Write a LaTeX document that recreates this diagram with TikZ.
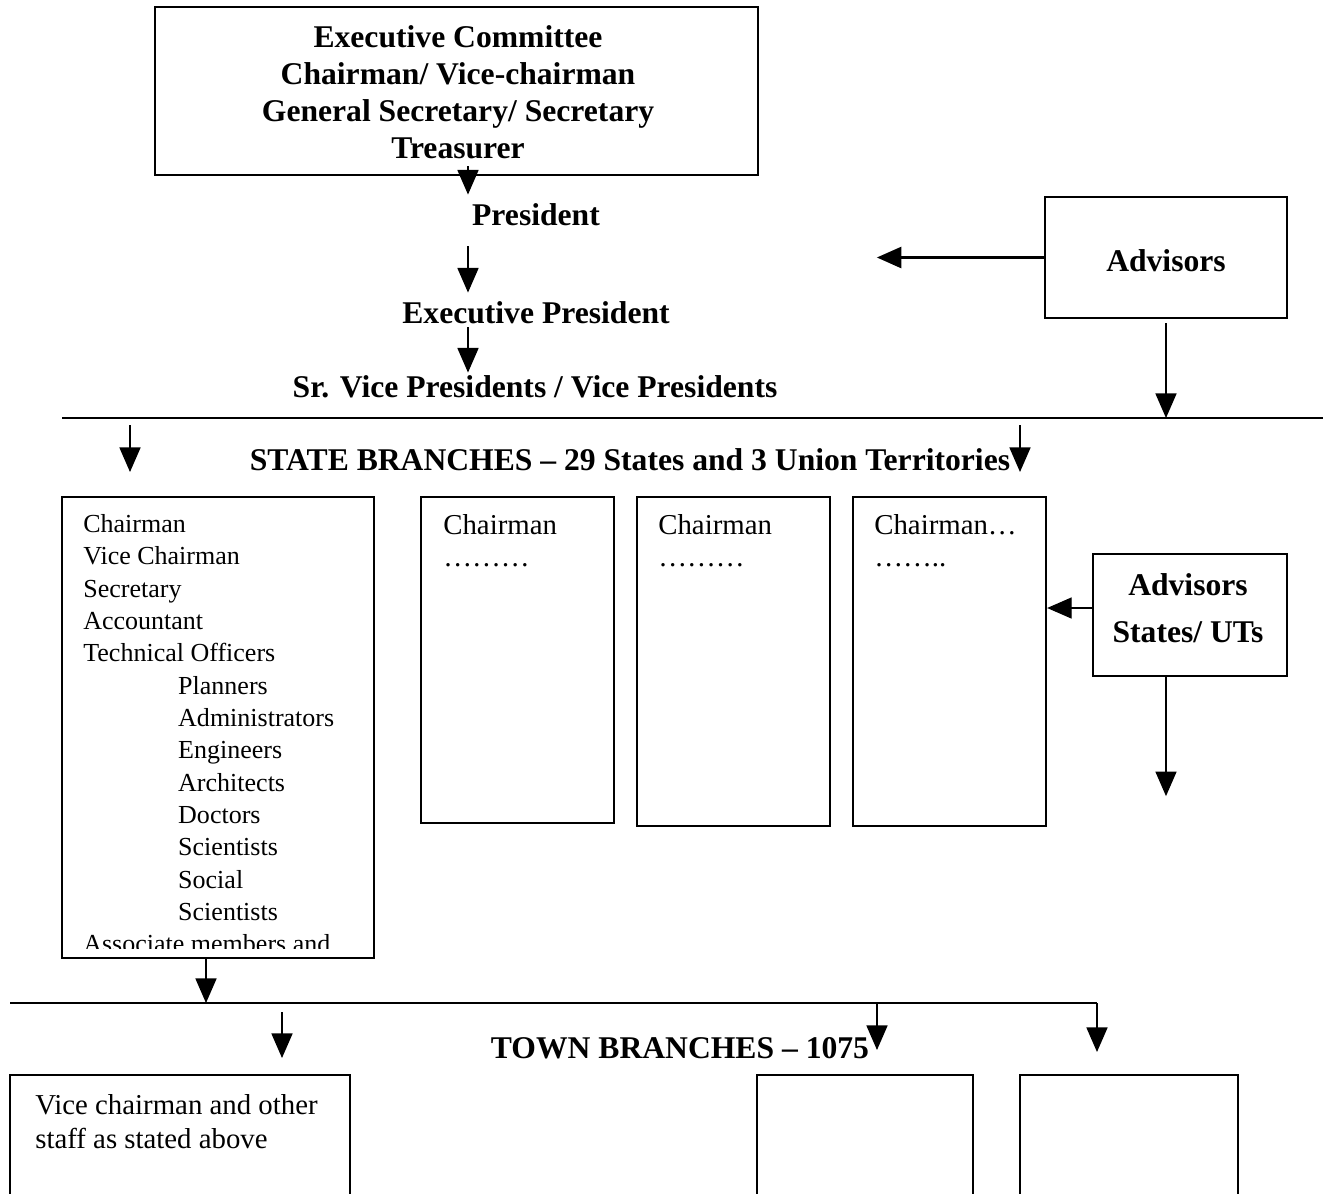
\documentclass[tikz,border=0pt]{standalone}
\usepackage{fontspec}
\setmainfont{Liberation Serif}
\usetikzlibrary{arrows.meta,fit,calc}

\tikzset{
  box/.style={draw,line width=1.3pt,inner sep=0pt},
  head/.style={font=\fontsize{18}{21}\selectfont\bfseries},
  lbl/.style={head,inner sep=0pt,text height=12pt,text depth=0pt,anchor=base},
  arr/.style={-{Triangle[length=14pt,width=12pt]},line width=0.8pt},
  body/.style={font=\fontsize{16.4}{18.2}\selectfont,inner sep=0pt,align=left,anchor=north west},
}

\begin{document}
\begin{tikzpicture}[x=0.02cm,y=-0.02cm]
\clip (0,0) rectangle (1323,1194);
% national level
\node[box,fit={(155,7) (758,175)}] (ec) {};
\node[head,align=center,inner sep=0pt] (ect) at (458,92.5)
  {Executive Committee\\Chairman/ Vice-chairman\\General Secretary/ Secretary\\Treasurer};
\node[lbl] (pres) at (536,225) {President};
\node[lbl] (exp) at (536,323) {Executive President};
\node[lbl] (svp) at (535,397) {Sr. Vice Presidents / Vice Presidents};
\coordinate (spine) at (468,0);
\node[box,fit={(1045,197) (1287,318)}] (adv) {};
\node[head,inner sep=0pt] (advt) at (1166,261) {Advisors};
\coordinate (l1w) at (62,418);
\coordinate (l1e) at (1323,418);
\draw[line width=1.1pt] (l1w) -- (l1e);
% state level
\node[lbl] (sbr) at (630,470) {STATE BRANCHES – 29 States and 3 Union Territories};
\node[box,fit={(62,497) (374,958)}] (sb1) {};
\node[box,fit={(421,497) (614,823)}] (sb2) {};
\node[box,fit={(637,497) (830,826)}] (sb3) {};
\node[box,fit={(853,497) (1046,826)}] (sb4) {};
\begin{scope}
  \clip (sb1.north west) rectangle ($(sb1.south east)+(0,-11)$);
  \node[body,font=\fontsize{14.8}{18.4}\selectfont] (sb1t) at (83,514)
    {Chairman\\Vice Chairman\\Secretary\\Accountant\\Technical Officers\\
     \hspace*{54pt}Planners\\\hspace*{54pt}Administrators\\\hspace*{54pt}Engineers\\
     \hspace*{54pt}Architects\\\hspace*{54pt}Doctors\\\hspace*{54pt}Scientists\\
     \hspace*{54pt}Social\\\hspace*{54pt}Scientists\\Associate members and};
\end{scope}
\node[body] (sb2t) at (443,514) {Chairman\\………};
\node[body] (sb3t) at (658,514) {Chairman\\………};
\node[body] (sb4t) at (874,514) {Chairman…\\……..};
\node[box,fit={(1093,554) (1287,676)}] (advs) {};
\node[align=center,inner sep=0pt,font=\fontsize{18}{27}\selectfont\bfseries] (advst) at (1188,608)
  {Advisors\\States/ UTs};
\coordinate (l2w) at (10,1003);
\coordinate (l2e) at (1097,1003);
\draw[line width=1.1pt] (l2w) -- (l2e);
% town level
\node[lbl] (tbr) at (680,1058) {TOWN BRANCHES – 1075};
\node[box,fit={(10,1075) (350,1215)}] (tb1) {};
\node[box,fit={(757,1075) (973,1215)}] (tb2) {};
\node[box,fit={(1020,1075) (1238,1215)}] (tb3) {};
\node[body,font=\fontsize{16.4}{19.3}\selectfont] (tb1t) at (35,1094)
  {Vice chairman and other\\staff as stated above};
% arrows
\draw[arr] ($(ec.south -| spine)+(0,-10)$) -- ($(pres.north -| spine)+(0,-9)$);
\draw[arr] ($(pres.south -| spine)+(0,21)$) -- ($(exp.north -| spine)+(0,-9)$);
\draw[arr] ($(exp.south -| spine)+(0,4)$) -- ($(svp.north -| spine)+(0,-3)$);
\draw[arr,line width=1.5pt] (adv.west) -- ++(-167,0);
\draw[arr] ($(adv.south)+(0,4)$) -- (adv.south |- l1w);
\draw[arr] ($(l1w)+(68,7)$) -- ++(0,47);
\draw[arr] ($(l1w)+(958,7)$) -- ++(0,47);
\draw[arr] ($(advs.west)+(0,-7)$) coordinate (q) -- (q -| sb4.east);
\draw[arr] (advs.south -| adv.south) -- ++(0,119);
\draw[arr] ($(sb1.south)+(-12,0)$) coordinate (r) -- (r |- l2w);
\draw[arr] ($(l2w)+(272,9)$) -- ++(0,46);
\draw[arr] ($(l2w)+(867,0)$) -- ++(0,47);
\draw[arr] (l2e) -- ++(0,49);
\end{tikzpicture}
\end{document}
